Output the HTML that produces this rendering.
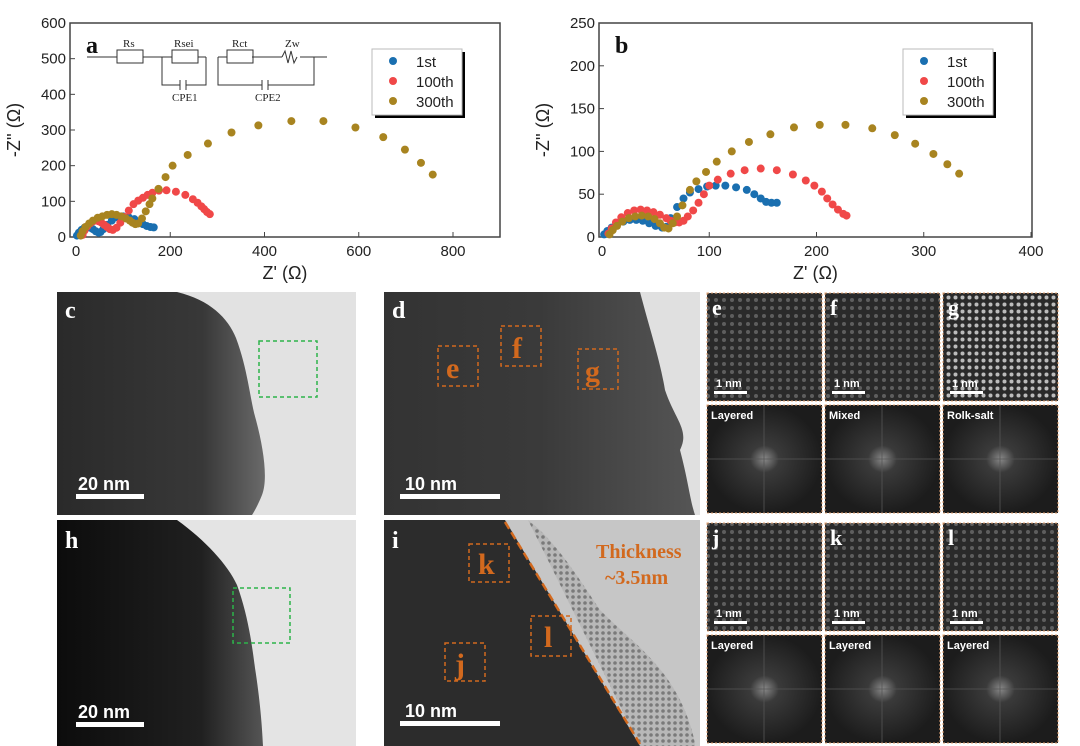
<!DOCTYPE html>
<html><head><meta charset="utf-8"><style>
body{margin:0;background:#fff;width:1080px;height:746px;overflow:hidden;font-family:"Liberation Sans",sans-serif}
svg{display:block}
</style></head><body>
<svg id="fig" width="1080" height="746" viewBox="0 0 1080 746" xmlns="http://www.w3.org/2000/svg">
<defs>
<linearGradient id="pc" x1="0" y1="0" x2="1" y2="0"><stop offset="0" stop-color="#2a2a2a"/><stop offset="0.7" stop-color="#383838"/><stop offset="1" stop-color="#6a6a6a"/></linearGradient>
<linearGradient id="ph" x1="0" y1="0" x2="1" y2="0"><stop offset="0" stop-color="#0c0c0c"/><stop offset="0.7" stop-color="#202020"/><stop offset="1" stop-color="#555"/></linearGradient>
<linearGradient id="gd" x1="0" y1="0" x2="1" y2="0"><stop offset="0" stop-color="#333"/><stop offset="0.5" stop-color="#3a3a3a"/><stop offset="1" stop-color="#555"/></linearGradient>
<radialGradient id="gf"><stop offset="0" stop-color="#888"/><stop offset="0.25" stop-color="#3a3a3a"/><stop offset="1" stop-color="#1c1c1c"/></radialGradient>
<pattern id="lat" width="8" height="8" patternUnits="userSpaceOnUse"><rect width="8" height="8" fill="#2a2a2a"/><circle cx="4" cy="4" r="2" fill="#5e5e5e"/></pattern>
<pattern id="latg" width="7" height="7" patternUnits="userSpaceOnUse"><rect width="7" height="7" fill="#2a2a2a"/><circle cx="3.5" cy="3.5" r="2" fill="#bbb"/></pattern>
<pattern id="shell" width="6" height="6" patternUnits="userSpaceOnUse"><rect width="6" height="6" fill="#b8b8b8"/><circle cx="3" cy="3" r="1.8" fill="#7a7a7a"/></pattern>
</defs>
<g id="chartA"></g>
<g id="chartB"></g>
<g id="images">
<rect x="57" y="292" width="299" height="223" fill="#e2e2e2"/>
<path d="M57 292H177C210 300 228 318 236 338C248 370 250 400 256 420C264 450 268 480 262 495C258 505 254 512 252 515H57Z" fill="url(#pc)"/>
<rect x="259" y="341" width="58" height="56" fill="none" stroke="#2db34a" stroke-dasharray="4,3" stroke-width="1.5"/>
<text x="65" y="318" font-family="Liberation Serif" font-weight="bold" font-size="24" fill="#fff">c</text>
<rect x="76" y="494" width="68" height="5" fill="#fff"/><text x="78" y="490" font-size="18" font-weight="bold" fill="#fff">20 nm</text>
<rect x="384" y="292" width="316" height="223" fill="#e0e0e0"/>
<path d="M384 292H640C650 330 660 360 665 390C675 420 690 430 680 450C688 480 690 500 695 515H384Z" fill="url(#gd)"/>
<text x="392" y="318" font-family="Liberation Serif" font-weight="bold" font-size="24" fill="#fff">d</text>
<g fill="none" stroke="#d2691e" stroke-dasharray="4,3" stroke-width="1.5"><rect x="438" y="346" width="40" height="40"/><rect x="501" y="326" width="40" height="40"/><rect x="578" y="349" width="40" height="40"/></g>
<g font-family="Liberation Serif" font-weight="bold" font-size="30" fill="#d2691e"><text x="446" y="378">e</text><text x="512" y="358">f</text><text x="585" y="381">g</text></g>
<rect x="400" y="494" width="100" height="5" fill="#fff"/><text x="405" y="490" font-size="18" font-weight="bold" fill="#fff">10 nm</text>
<rect x="57" y="520" width="299" height="226" fill="#e4e4e4"/>
<path d="M57 520H177C205 540 228 565 237 585C248 615 252 645 255 668C260 700 262 725 263 746H57Z" fill="url(#ph)"/>
<rect x="233" y="588" width="57" height="55" fill="none" stroke="#2db34a" stroke-dasharray="4,3" stroke-width="1.5"/>
<text x="65" y="548" font-family="Liberation Serif" font-weight="bold" font-size="24" fill="#fff">h</text>
<rect x="76" y="722" width="68" height="5" fill="#fff"/><text x="78" y="718" font-size="18" font-weight="bold" fill="#fff">20 nm</text>
<rect x="384" y="520" width="316" height="226" fill="#c6c6c6"/>
<path d="M528 520C555 540 580 580 600 610C630 640 660 660 680 700C690 720 695 740 695 746H640Z" fill="url(#shell)"/>
<path d="M384 520H505L640 746H384Z" fill="#2c2c2c"/>
<line x1="505" y1="522" x2="640" y2="744" stroke="#d2691e" stroke-width="2.5" stroke-dasharray="8,4"/>
<text x="392" y="548" font-family="Liberation Serif" font-weight="bold" font-size="24" fill="#fff">i</text>
<text x="596" y="558" font-family="Liberation Serif" font-weight="bold" font-size="20" fill="#d2691e">Thickness</text>
<text x="605" y="584" font-family="Liberation Serif" font-weight="bold" font-size="20" fill="#d2691e">~3.5nm</text>
<g fill="none" stroke="#d2691e" stroke-dasharray="4,3" stroke-width="1.5"><rect x="469" y="544" width="40" height="38"/><rect x="531" y="616" width="40" height="40"/><rect x="445" y="643" width="40" height="38"/></g>
<g font-family="Liberation Serif" font-weight="bold" font-size="30" fill="#d2691e"><text x="478" y="574">k</text><text x="544" y="647">l</text><text x="455" y="674">j</text></g>
<rect x="400" y="721" width="100" height="5" fill="#fff"/><text x="405" y="717" font-size="18" font-weight="bold" fill="#fff">10 nm</text>
<g id="small"></g>
</g>
</svg>
<script>
const NS="http://www.w3.org/2000/svg";
function el(p,t,a,txt){const e=document.createElementNS(NS,t);for(const k in a)e.setAttribute(k,a[k]);if(txt!==undefined)e.textContent=txt;p.appendChild(e);return e;}
// ---- chart a data ----
const aX1=[2,6,12,18,24,30,36,42,48,52,58,66,76,88,100,112,124,134,142,150,158,165];
const aY1=[4,12,20,26,28,26,22,16,12,14,22,34,46,55,58,55,50,42,36,31,28,27];
const aX100=[14,18,24,30,36,42,48,54,60,66,72,78,86,94,102,112,122,132,142,152,162,176,192,212,232,248,258,266,272,278,284];
const aY100=[6,18,30,38,44,46,44,40,34,28,22,20,26,40,56,74,92,102,110,118,124,130,131,127,118,106,96,86,78,70,64];
const aX300=[10,14,20,28,36,46,56,66,76,86,96,106,114,120,126,132,140,148,156,162,175,190,205,237,280,330,387,457,525,593,652,698,732,757];
const aY300=[4,16,28,38,46,54,58,62,64,62,58,52,46,40,36,38,52,72,92,108,135,168,200,230,262,293,313,325,325,307,280,245,208,175];
const aXTicks=[0,200,400,600,800], aYTicks=[0,100,200,300,400,500,600];
// ---- chart b data ----
const bX1=[2,5,9,14,20,26,32,38,44,50,56,60,64,70,76,82,90,98,106,115,125,135,142,148,153,158,163];
const bY1=[3,7,11,15,18,20,20,19,16,13,11,12,22,35,45,52,56,59,60,60,58,55,50,45,41,40,40];
const bX100=[6,9,13,18,24,30,36,42,48,54,60,64,68,72,76,80,85,90,95,100,108,120,133,148,163,178,190,198,205,210,215,220,225,228];
const bY100=[4,10,17,23,28,31,32,31,29,26,22,19,17,17,19,24,31,40,50,60,67,74,78,80,78,73,66,60,53,45,38,32,27,25];
const bX300=[7,10,14,19,25,31,37,43,49,54,58,62,66,70,75,82,88,97,107,121,137,157,179,203,227,252,273,292,309,322,333];
const bY300=[3,8,13,18,22,24,25,24,21,16,11,10,16,24,37,55,65,76,88,100,111,120,128,131,131,127,119,109,97,85,74];
const bXTicks=[0,100,200,300,400], bYTicks=[0,50,100,150,200,250];
const colors={s1:"#1a6fb0",s100:"#f04848",s300:"#a88420"};
function chart(g,o){
  const sx=v=>o.x0+(v)*(o.x1-o.x0)/o.xmax, sy=v=>o.y0-v*(o.y0-o.y1)/o.ymax;
  el(g,"rect",{x:o.L,y:o.y1,width:o.R-o.L,height:o.y0-o.y1,fill:"none",stroke:"#444","stroke-width":1.5});
  o.xt.forEach(v=>{el(g,"line",{x1:sx(v),x2:sx(v),y1:o.y0,y2:o.y0-5,stroke:"#444"});
    const t=el(g,"text",{x:sx(v),y:o.y0+19,"text-anchor":"middle","font-size":15,fill:"#222"},v);});
  o.yt.forEach(v=>{el(g,"line",{x1:o.L,x2:o.L+5,y1:sy(v),y2:sy(v),stroke:"#444"});
    const t=el(g,"text",{x:o.L-4,y:sy(v)+5,"text-anchor":"end","font-size":15,fill:"#222"},v);});
  const xl=el(g,"text",{x:(o.L+o.R)/2,y:o.y0+42,"text-anchor":"middle","font-size":18,fill:"#222"},"Z' (Ω)");
  
  const yl=el(g,"text",{x:0,y:0,"text-anchor":"middle","font-size":18,fill:"#222",transform:`translate(${o.L-50},${(o.y0+o.y1)/2}) rotate(-90)`},"-Z'' (Ω)");
  
  o.series.forEach(s=>{const sg=el(g,"g",{fill:s.c});
    s.x.forEach((v,i)=>{const c=el(sg,"circle",{cx:sx(v),cy:sy(s.y[i]),r:4});});});
  const lg=el(g,"g",{});
  el(lg,"rect",{x:o.lx+3,y:o.ly+3,width:90,height:66,fill:"#000"});
  el(lg,"rect",{x:o.lx,y:o.ly,width:90,height:66,fill:"#fff",stroke:"#bbb"});
  o.series.forEach((s,i)=>{el(lg,"circle",{cx:o.lx+21,cy:o.ly+12+i*20,r:4,fill:s.c});
    el(lg,"text",{x:o.lx+44,y:o.ly+18+i*20,"font-size":15,fill:"#222"},s.n);});
  el(g,"text",{x:o.L+16,y:o.y1+30,"font-family":"Liberation Serif","font-weight":"bold","font-size":24,fill:"#111"},o.lab);
}
const A=document.getElementById("chartA"),B=document.getElementById("chartB");
chart(A,{L:70,R:500,x0:76,x1:453,xmax:800,y0:237,y1:23,ymax:600,xt:aXTicks,yt:aYTicks,lx:372,ly:49,lab:"a",
 series:[{n:"1st",c:colors.s1,x:aX1,y:aY1},{n:"100th",c:colors.s100,x:aX100,y:aY100},{n:"300th",c:colors.s300,x:aX300,y:aY300}]});
chart(B,{L:599,R:1032,x0:602,x1:1031,xmax:400,y0:237,y1:23,ymax:250,xt:bXTicks,yt:bYTicks,lx:903,ly:49,lab:"b",
 series:[{n:"1st",c:colors.s1,x:bX1,y:bY1},{n:"100th",c:colors.s100,x:bX100,y:bY100},{n:"300th",c:colors.s300,x:bX300,y:bY300}]});
const ci=el(A,"g",{fill:"none",stroke:"#333","stroke-width":1});

el(ci,"path",{d:"M87 57H117M143 57H172M198 57H206M218 57H227M252 57H282M300 57H327M162 57V85H180M186 85H206V57M218 57V85H262M268 85H314V57"});
[[117,50],[172,50],[227,50]].forEach(p=>el(ci,"rect",{x:p[0],y:p[1],width:26,height:13}));
el(ci,"path",{d:"M282 57l3 -6l3 12l3 -12l3 12l3 -6M180 80V90M186 80V90M262 80V90M268 80V90"});
const ct=el(A,"g",{"font-family":"Liberation Serif","font-size":11,fill:"#222"});
[["Rs",123,47],["Rsei",174,47],["Rct",232,47],["Zw",285,47],["CPE1",172,101],["CPE2",255,101]].forEach(t=>el(ct,"text",{x:t[1],y:t[2]},t[0]));
const sm=document.getElementById("small");
const cols=[707,825,943], rows=[[293,405],[523,635]];
const topL=[["e","f","g"],["j","k","l"]];
const fftL=[["Layered","Mixed","Rolk-salt"],["Layered","Layered","Layered"]];
rows.forEach((r,ri)=>cols.forEach((cx,ci2)=>{
  const g1=el(sm,"g",{});
  el(g1,"rect",{x:cx,y:r[0],width:115,height:108,fill:(ri==0&&ci2==2)?"url(#latg)":"url(#lat)",stroke:"#e0a070","stroke-dasharray":"2,2"});
  el(g1,"text",{x:cx+5,y:r[0]+22,"font-family":"Liberation Serif","font-weight":"bold","font-size":22,fill:"#fff"},topL[ri][ci2]);
  el(g1,"rect",{x:cx+7,y:r[0]+98,width:33,height:3,fill:"#fff"});
  el(g1,"text",{x:cx+9,y:r[0]+94,"font-size":11,"font-weight":"bold",fill:"#fff"},"1 nm");
  const g2=el(sm,"g",{});
  el(g2,"rect",{x:cx,y:r[1],width:115,height:108,fill:"url(#gf)",stroke:"#e0a070","stroke-dasharray":"2,2"});
  el(g2,"path",{d:`M${cx} ${r[1]+54}h115M${cx+57} ${r[1]}v108`,stroke:"#555","stroke-width":0.8});
  el(g2,"text",{x:cx+4,y:r[1]+14,"font-size":11,"font-weight":"bold",fill:"#fff"},fftL[ri][ci2]);
}));
</script>
</body></html>
